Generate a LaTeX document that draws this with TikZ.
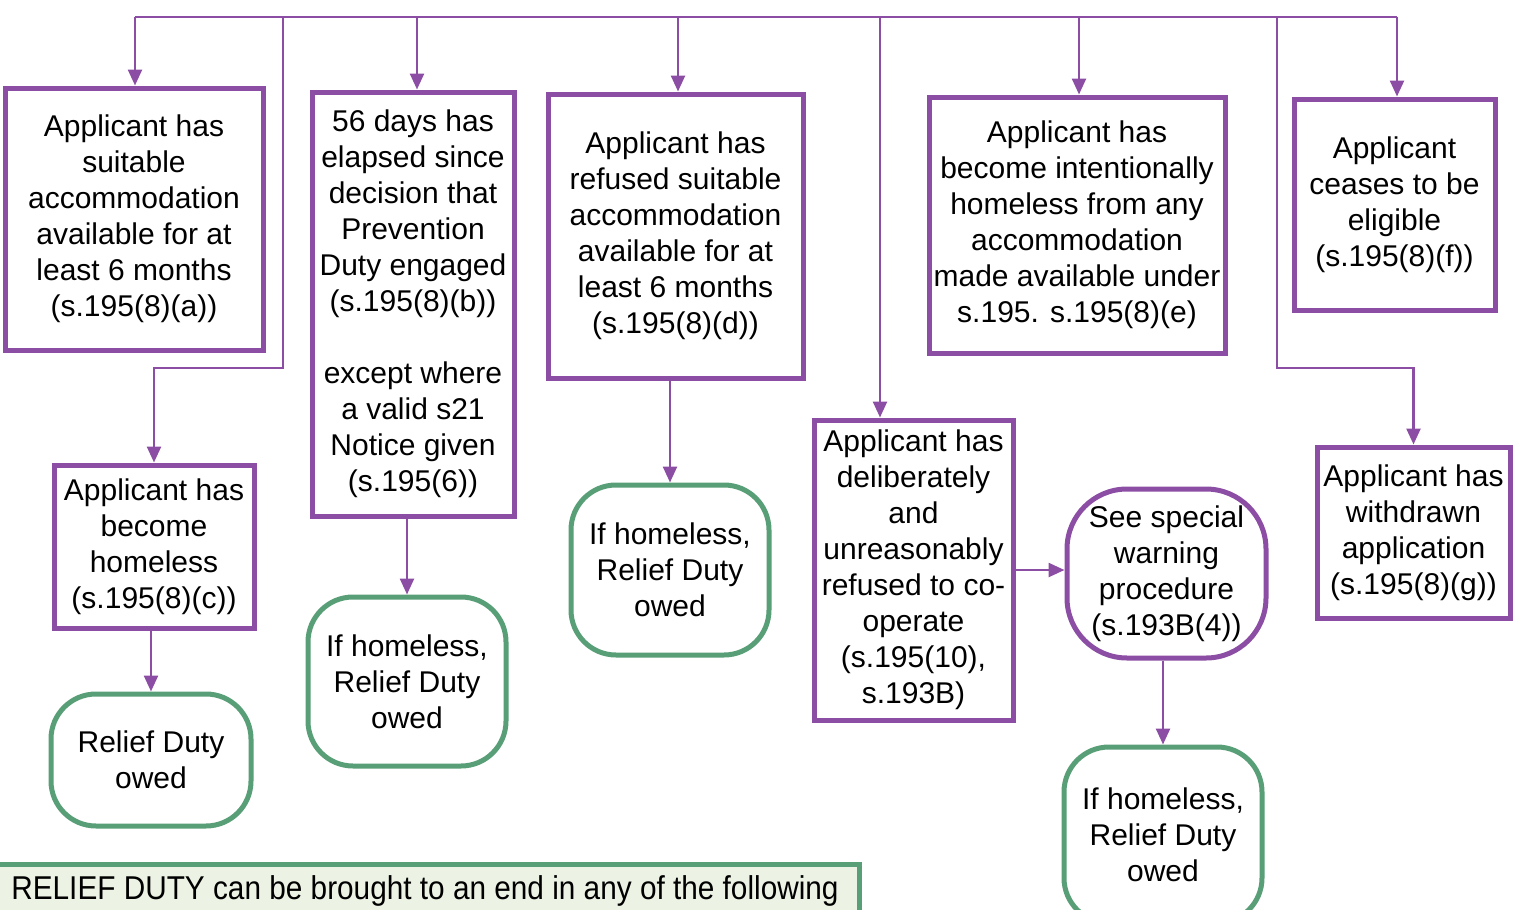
\documentclass[tikz,border=0pt]{standalone}
\usepackage{fontspec}
\setmainfont{Liberation Sans}
\usetikzlibrary{arrows.meta}
\definecolor{purp}{RGB}{140,78,164}
\definecolor{grn}{RGB}{88,158,118}
\definecolor{bannerfill}{RGB}{236,243,228}
\begin{document}
\begin{tikzpicture}[x=1pt,y=-1pt,
 every node/.style={font=\fontsize{30}{36}\selectfont, align=center, inner sep=0pt},
 pbox/.style={draw=purp, line width=5pt, rectangle, fill=white},
 gbox/.style={draw=grn, line width=5pt, rounded corners=45pt, fill=white},
 pround/.style={draw=purp, line width=5pt, rounded corners=60pt, fill=white},
 link/.style={draw=purp, line width=2.5pt},
 arr/.style={link, -{Triangle[width=14pt,length=16pt]}},
]
\useasboundingbox (0,0) rectangle (1513,910);

% purple boxes
\node[pbox, minimum width=258pt, minimum height=262pt] (A) at (134,219)
 {Applicant has\\suitable\\accommodation\\available for at\\least 6 months\\(s.195(8)(a))};
\node[pbox, minimum width=202pt, minimum height=424pt] (B) at (413,304)
 {56 days has\\elapsed since\\decision that\\Prevention\\Duty engaged\\(s.195(8)(b))\\[36pt]except where\\a valid s21\\Notice given\\(s.195(6))};
\node[pbox, minimum width=255pt, minimum height=284pt] (C) at (675.5,236)
 {Applicant has\\refused suitable\\accommodation\\available for at\\least 6 months\\(s.195(8)(d))};
\node[pbox, minimum width=296pt, minimum height=256pt] (D) at (1077,225)
 {Applicant has\\become intentionally\\homeless from any\\accommodation\\made available under\\s.195. s.195(8)(e)};
\node[pbox, minimum width=201pt, minimum height=211pt] (E) at (1394.5,204.5)
 {Applicant\\ceases to be\\eligible\\(s.195(8)(f))};
\node[pbox, minimum width=200pt, minimum height=163pt] (F) at (154,546.5)
 {Applicant has\\become\\homeless\\(s.195(8)(c))};
\node[pbox, minimum width=199pt, minimum height=300pt] (G) at (913.5,570)
 {Applicant has\\deliberately\\and\\unreasonably\\refused to co-\\operate\\(s.195(10),\\s.193B)};
\node[pbox, minimum width=193pt, minimum height=171pt] (H) at (1413.5,532.5)
 {Applicant has\\withdrawn\\application\\(s.195(8)(g))};
\node[pround, minimum width=199pt, minimum height=169pt] (I) at (1166.5,573.5)
 {See special\\warning\\procedure\\(s.193B(4))};

% green boxes
\node[gbox, minimum width=200pt, minimum height=132pt] (J) at (151,760)
 {Relief Duty\\owed};
\node[gbox, minimum width=198pt, minimum height=169pt] (K) at (407,681.5)
 {If homeless,\\Relief Duty\\owed};
\node[gbox, minimum width=198pt, minimum height=170pt] (L) at (670,570)
 {If homeless,\\Relief Duty\\owed};
\node[gbox, minimum width=198pt, minimum height=176pt] (M) at (1163,835)
 {If homeless,\\Relief Duty\\owed};

% banner
\node[draw=grn, fill=bannerfill, line width=5pt, minimum width=868pt, minimum height=54pt] (N) at (425,891)
 {\fontsize{33}{36}\selectfont\scalebox{0.902}[1]{RELIEF DUTY can be brought to an end in any of the following}};

% bus coordinates
\coordinate (t1) at (135,17);
\coordinate (t2) at (283,17);
\coordinate (t3) at (417,17);
\coordinate (t4) at (678,17);
\coordinate (t5) at (880,17);
\coordinate (t6) at (1079,17);
\coordinate (t7) at (1277,17);
\coordinate (t8) at (1397,17);
\coordinate (bF) at (283,368);
\coordinate (bH) at (1277,368);

\draw[link] (t1) -- (t8);
\draw[arr] (t1) -- (t1 |- A.north);
\draw[arr] (t3) -- (t3 |- B.north);
\draw[arr] (t4) -- (t4 |- C.north);
\draw[arr] (t5) -- (t5 |- G.north);
\draw[arr] (t6) -- (t6 |- D.north);
\draw[arr] (t8) -- (t8 |- E.north);
\draw[arr] (t2) -- (bF) -| (F.north);
\draw[arr] (t7) -- (bH) -| (H.north);

% lower arrows
\draw[arr] (J.north |- F.south) -- (J.north);
\draw[arr] (K.north |- B.south) -- (K.north);
\draw[arr] (L.north |- C.south) -- (L.north);
\draw[arr] (G.east) -- (G.east -| I.west);
\draw[arr] (M.north |- I.south) -- (M.north);
\end{tikzpicture}
\end{document}
